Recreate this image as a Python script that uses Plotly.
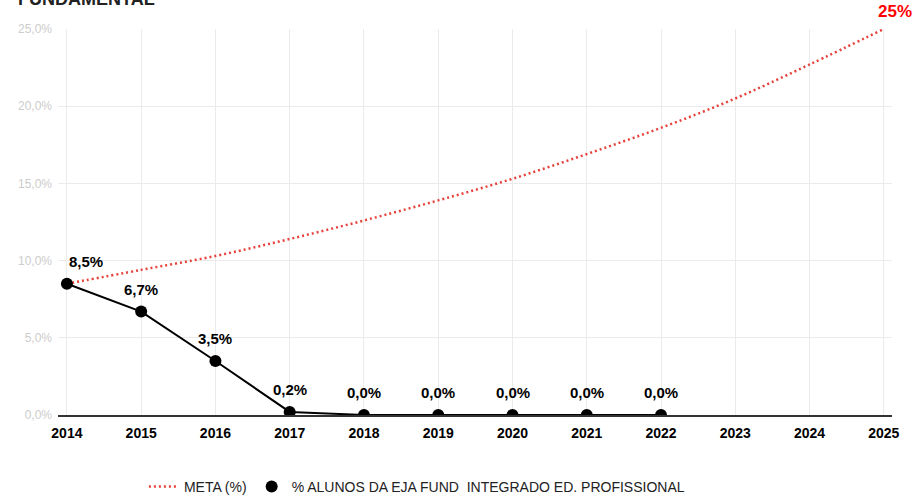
import plotly.graph_objects as go

anos = [2014, 2015, 2016, 2017, 2018, 2019, 2020, 2021, 2022, 2023, 2024, 2025]
meta = [8.5, 9.4, 10.3, 11.4, 12.6, 13.9, 15.3, 16.9, 18.6, 20.5, 22.7, 25.0]
anos_real = [2014, 2015, 2016, 2017, 2018, 2019, 2020, 2021, 2022]
alunos = [8.5, 6.7, 3.5, 0.2, 0.0, 0.0, 0.0, 0.0, 0.0]
y_ticks = [0, 5, 10, 15, 20, 25]
y_ticktext = ["0,0%", "5,0%", "10,0%", "15,0%", "20,0%", "25,0%"]

FONT = "Liberation Sans, Arial, sans-serif"

fig = go.Figure()
fig.add_trace(go.Scatter(
    x=anos, y=meta, mode="lines", name="META (%)",
    line=dict(color="#e8403a", width=2.5, dash="2px,3px", shape="spline"),
))
fig.add_trace(go.Scatter(
    x=anos_real, y=alunos, mode="lines", showlegend=False,
    line=dict(color="black", width=2), hoverinfo="skip",
))
fig.add_trace(go.Scatter(
    x=anos_real, y=alunos, mode="markers",
    name="% ALUNOS DA EJA FUND  INTEGRADO ED. PROFISSIONAL",
    marker=dict(color="black", size=12),
))

annotations = []
for i, (xv, yv) in enumerate(zip(anos_real, alunos)):
    annotations.append(dict(
        x=xv, y=yv, xref="x", yref="y",
        text=f"{yv:.1f}%".replace(".", ","),
        showarrow=False, yanchor="bottom", xanchor="left" if i == 0 else "center",
        xshift=0 if i == 0 else 0, yshift=12,
        font=dict(family=FONT, size=15, color="black", weight="bold"),
    ))
annotations.append(dict(
    x=anos[-1], y=meta[-1], xref="x", yref="y",
    text=f"{meta[-1]:.0f}%", showarrow=False, yanchor="bottom", xanchor="center",
    xshift=11, yshift=6, font=dict(family=FONT, size=17, color="#ff0000", weight="bold"),
))
annotations.append(dict(
    x=-0.05, y=1.046, xref="paper", yref="paper", text="FUNDAMENTAL",
    showarrow=False, xanchor="left", yanchor="bottom",
    font=dict(family=FONT, size=18, color="#222222", weight="bold"),
))

fig.update_layout(
    width=914, height=497,
    margin=dict(l=58, r=22, t=29, b=82, autoexpand=False),
    paper_bgcolor="white", plot_bgcolor="white",
    font=dict(family=FONT),
    annotations=annotations,
    legend=dict(
        orientation="h", x=0.103, xanchor="left", y=-0.1865, yanchor="middle",
        font=dict(family=FONT, size=14, color="#222222"),
        itemwidth=30,
    ),
    xaxis=dict(
        range=[2013.88, 2025.11], tickmode="array", tickvals=anos,
        ticktext=[str(a) for a in anos],
        tickfont=dict(family=FONT, size=14, color="black", weight="bold"),
        showgrid=True, gridcolor="#ebebeb", gridwidth=1,
        showline=True, linecolor="#333333", linewidth=1.5,
        zeroline=False, ticks="", ticklabelstandoff=4, automargin=False,
    ),
    yaxis=dict(
        range=[0, 25], tickmode="array", tickvals=y_ticks, ticktext=y_ticktext,
        tickfont=dict(family=FONT, size=12, color="#cccccc"),
        showgrid=True, gridcolor="#ebebeb", gridwidth=1,
        zeroline=False, showline=False, ticks="", automargin=False,
        ticklabelstandoff=5,
    ),
)

fig.write_html(
    "out.html",
    config={"displayModeBar": False},
    post_script="document.body.style.margin='0';document.body.style.overflow='hidden';",
)
